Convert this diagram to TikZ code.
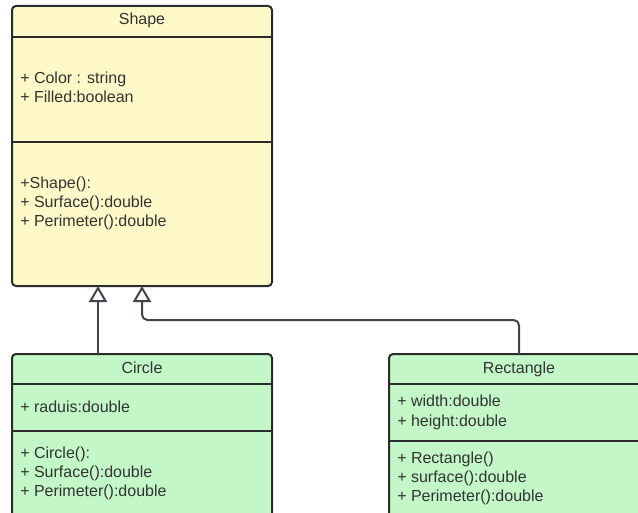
\documentclass[tikz,border=0pt]{standalone}
\usepackage{fontspec}
\setmainfont{Liberation Sans}
\usetikzlibrary{arrows.meta,calc}
\definecolor{noteyellow}{HTML}{FFF9C8}
\definecolor{classgreen}{HTML}{C3F7C8}
\definecolor{edgeink}{HTML}{2B2B2B}
\definecolor{textink}{HTML}{333333}
\definecolor{wire}{HTML}{3F454D}
\begin{document}
\begin{tikzpicture}[x=0.75pt,y=-0.75pt,
  classbox/.style={draw=edgeink, line width=1.5pt, rounded corners=3pt,
    minimum width=195pt, inner sep=0pt, outer sep=0pt},
  divider/.style={draw=edgeink, line width=1.5pt},
  member/.style={font=\fontsize{12}{14}\selectfont, text=textink, inner sep=0pt, anchor=base west},
  title/.style={font=\fontsize{12}{14}\selectfont, text=textink, inner sep=0pt, anchor=base},
  inherit/.style={draw=wire, line width=1.5pt,
    -{Triangle[open, width=13.5pt, length=12pt]}}]
\useasboundingbox (0,0) rectangle (638,513);
\clip (0,0) rectangle (638,513);
\fill[white] (0,0) rectangle (638,513);

% class boxes
\node[classbox, fill=noteyellow, minimum height=210pt] (shape) at (142,146) {};
\node[classbox, fill=classgreen, minimum height=135pt] (circle) at (142,444) {};
\node[classbox, fill=classgreen, minimum height=135pt] (rect) at (519,444) {};

% compartment separators
\draw[divider] ($(shape.north west)+(0,31)$) -- ($(shape.north east)+(0,31)$);
\draw[divider] ($(shape.north west)+(0,136)$) -- ($(shape.north east)+(0,136)$);
\draw[divider] ($(circle.north west)+(0,30)$) -- ($(circle.north east)+(0,30)$);
\draw[divider] ($(circle.north west)+(0,77)$) -- ($(circle.north east)+(0,77)$);
\draw[divider] ($(rect.north west)+(0,30)$) -- ($(rect.north east)+(0,30)$);
\draw[divider] ($(rect.north west)+(0,87)$) -- ($(rect.north east)+(0,87)$);

% Shape
\node[title] (shapeT) at (142,25) {Shape};
\node[member] (shapeA1) at (20,84) {+ Color : string};
\node[member] (shapeA2) at (20,103) {+ Filled:boolean};
\node[member] (shapeM1) at (20,189) {+Shape():};
\node[member] (shapeM2) at (20,208) {+ Surface():double};
\node[member] (shapeM3) at (20,227) {+ Perimeter():double};

% Circle
\node[title] (circleT) at (142,373) {Circle};
\node[member] (circleA1) at (20,412) {+ raduis:double};
\node[member] (circleM1) at (20,458) {+ Circle():};
\node[member] (circleM2) at (20,477) {+ Surface():double};
\node[member] (circleM3) at (20,496) {+ Perimeter():double};

% Rectangle
\node[title] (rectT) at (519,373) {Rectangle};
\node[member] (rectA1) at (397,406) {+ width:double};
\node[member] (rectA2) at (397,426) {+ height:double};
\node[member] (rectM1) at (397,463) {+ Rectangle()};
\node[member] (rectM2) at (397,482) {+ surface():double};
\node[member] (rectM3) at (397,501) {+ Perimeter():double};

% generalization connectors
\coordinate (lane) at (98,320);
\coordinate (elbow) at (142,320);
\draw[inherit] (circle.north -| lane) -- (shape.south -| lane);
\draw[inherit, rounded corners=4pt] (rect.north) |- (elbow) -- (shape.south);
\end{tikzpicture}
\end{document}
